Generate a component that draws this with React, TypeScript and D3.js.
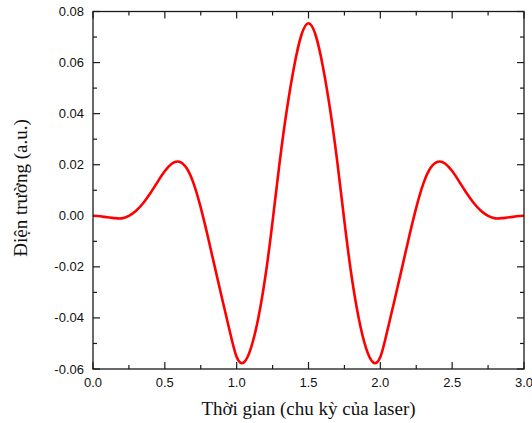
import React from 'react';
import * as d3 from 'd3';

const time = [
  0, 0.05, 0.1, 0.15, 0.2, 0.25, 0.3, 0.35, 0.4, 0.45, 0.5, 0.55, 0.6, 0.65, 0.7, 0.75, 0.8,
  0.85, 0.9, 0.95, 1.0, 1.05, 1.1, 1.15, 1.2, 1.25, 1.3, 1.35, 1.4, 1.45, 1.5, 1.55, 1.6,
  1.65, 1.7, 1.75, 1.8, 1.85, 1.9, 1.95, 2.0, 2.05, 2.1, 2.15, 2.2, 2.25, 2.3, 2.35, 2.4,
  2.45, 2.5, 2.55, 2.6, 2.65, 2.7, 2.75, 2.8, 2.85, 2.9, 2.95, 3.0,
];

const field = [
  0, -0.0002, -0.0006, -0.0009, -0.001, 0, 0.002, 0.005, 0.0089, 0.0133, 0.0175, 0.0205,
  0.0212, 0.0188, 0.0127, 0.0032, -0.0083, -0.0206, -0.0328, -0.0447, -0.0553, -0.0574,
  -0.0517, -0.0402, -0.0237, -0.0022, 0.0213, 0.0418, 0.0585, 0.0707, 0.0754,
  0.0707, 0.0585, 0.0418, 0.0213, -0.0022, -0.0237, -0.0402, -0.0517, -0.0574, -0.0553,
  -0.0447, -0.0328, -0.0206, -0.0083, 0.0032, 0.0127, 0.0188, 0.0212, 0.0205, 0.0175,
  0.0133, 0.0089, 0.005, 0.002, 0, -0.001, -0.0009, -0.0006, -0.0002, 0,
];

const xMajor = [0, 0.5, 1.0, 1.5, 2.0, 2.5, 3.0];
const xMinor = [0.25, 0.75, 1.25, 1.75, 2.25, 2.75];
const yMajor = [-0.06, -0.04, -0.02, 0, 0.02, 0.04, 0.06, 0.08];
const yMinor = [-0.05, -0.03, -0.01, 0.01, 0.03, 0.05, 0.07];

const xTitle = 'Thời gian (chu kỳ của laser)';
const yTitle = 'Điện trường (a.u.)';

const W = 532;
const H = 423;
const L = 93;
const R = 524;
const T = 11.5;
const B = 369;

export default function App() {
  const x = d3.scaleLinear().domain([0, 3]).range([L, R]);
  const y = d3.scaleLinear().domain([-0.06, 0.08]).range([B, T]);
  const pts: [number, number][] = time.map((t, i) => [t, field[i]]);
  const line = d3
    .line<[number, number]>()
    .x((d) => x(d[0]))
    .y((d) => y(d[1]))
    .curve(d3.curveNatural);

  const axisColor = '#1a1a1a';
  const sans = '"Liberation Sans", Arial, sans-serif';
  const serif = '"Liberation Serif", "Times New Roman", serif';
  const major = 7;
  const minor = 4;

  return (
    <svg
      width={W}
      height={H}
      style={{ position: 'absolute', left: 0, top: 0, background: '#fff' }}
    >
      <rect x={0} y={0} width={W} height={H} fill="#fff" />
      <g stroke={axisColor} strokeWidth={1.2}>
        {xMajor.map((t) => (
          <g key={'xm' + t}>
            <line x1={x(t)} x2={x(t)} y1={B} y2={B - major} />
            <line x1={x(t)} x2={x(t)} y1={T} y2={T + major} />
          </g>
        ))}
        {xMinor.map((t) => (
          <g key={'xn' + t}>
            <line x1={x(t)} x2={x(t)} y1={B} y2={B - minor} />
            <line x1={x(t)} x2={x(t)} y1={T} y2={T + minor} />
          </g>
        ))}
        {yMajor.map((v) => (
          <g key={'ym' + v}>
            <line x1={L} x2={L + major} y1={y(v)} y2={y(v)} />
            <line x1={R} x2={R - major} y1={y(v)} y2={y(v)} />
          </g>
        ))}
        {yMinor.map((v) => (
          <g key={'yn' + v}>
            <line x1={L} x2={L + minor} y1={y(v)} y2={y(v)} />
            <line x1={R} x2={R - minor} y1={y(v)} y2={y(v)} />
          </g>
        ))}
      </g>
      <path d={line(pts) || ''} fill="none" stroke="#ff0000" strokeWidth={2.6} strokeLinejoin="round" />
      <rect x={L} y={T} width={R - L} height={B - T} fill="none" stroke={axisColor} strokeWidth={1.3} />
      <g fontFamily={sans} fontSize={13} fill="#111">
        {xMajor.map((t) => (
          <text key={'xl' + t} x={x(t)} y={B + 17.5} textAnchor="middle">
            {t.toFixed(1)}
          </text>
        ))}
        {yMajor.map((v) => (
          <text key={'yl' + v} x={L - 9} y={y(v)} dy="0.35em" textAnchor="end">
            {v.toFixed(2)}
          </text>
        ))}
      </g>
      <text x={(L + R) / 2} y={415} textAnchor="middle" fontFamily={serif} fontSize={19} fill="#111">
        {xTitle}
      </text>
      <text
        transform={`translate(27, 188) rotate(-90)`}
        textAnchor="middle"
        fontFamily={serif}
        fontSize={19}
        fill="#111"
      >
        {yTitle}
      </text>
    </svg>
  );
}
